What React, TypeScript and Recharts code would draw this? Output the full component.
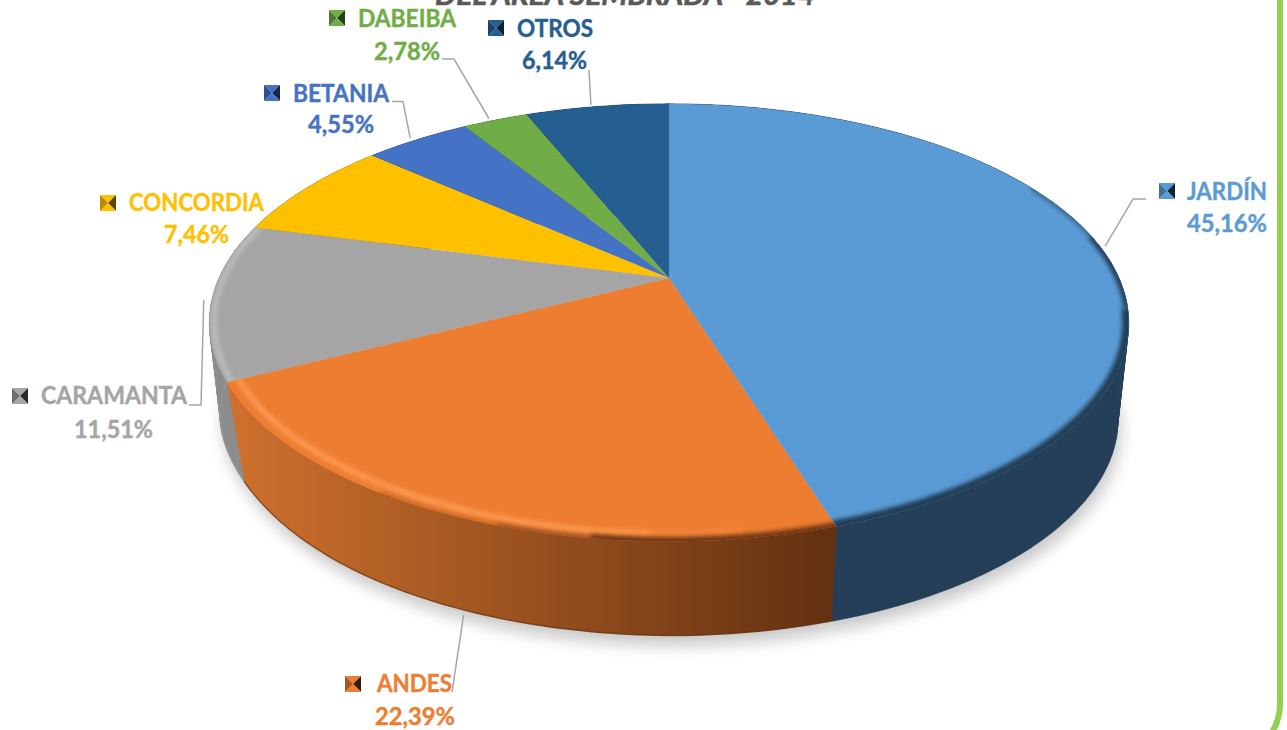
import React from "react";
import { PieChart, Pie } from "recharts";

const CATEGORIES = ["JARDÍN", "ANDES", "CARAMANTA", "CONCORDIA", "BETANIA", "DABEIBA", "OTROS"];
const VALUES = [45.16, 22.39, 11.51, 7.46, 4.55, 2.78, 6.14];
const TITLE = "DEL ÁREA SEMBRADA - 2014";

const COLORS = ["#5B9BD5", "#ED7D31", "#A5A5A5", "#FFC000", "#4472C4", "#70AD47", "#255E91"];
const WALL_LEFT = ["#243F57", "#CE702D", "#8C8C8C", "#A87E00", "#2C4B80", "#4A722F", "#183D5F"];
const WALL_RIGHT = ["#243F57", "#633110", "#9A9A9A", "#A87E00", "#2C4B80", "#4A722F", "#183D5F"];
const KEY_DARK = ["#0E2333", "#3B1C08", "#2A2A2A", "#5C4500", "#16274A", "#24401A", "#0B2237"];
const KEY_MID = ["#3F7097", "#A5561F", "#6E6E6E", "#B88B00", "#2F5190", "#4E7C30", "#1A4369"];

const chartData = CATEGORIES.map((name, i) => ({ name, value: VALUES[i] }));

const CX = 669;
const CY = 278;
const RADIUS = 450;
const RATIO_Y = 0.466;
const PERSPECTIVE = 0.204;
const WALL_DROP = 103;
const WALL_SHIFT = 1;
const FONT = "Lato, 'Open Sans', sans-serif";

type Pt = [number, number];

function topPoint(cx: number, cy: number, r: number, deg: number, t = 1): Pt {
  const a = (deg * Math.PI) / 180;
  const u = t * Math.cos(a);
  const v = t * Math.sin(a);
  const w = 1 + PERSPECTIVE * v;
  return [cx + (r * u) / w, cy - (r * RATIO_Y * v) / w];
}

function wallScale(deg: number): number {
  const u = Math.cos((deg * Math.PI) / 180);
  if (u >= 0) return 0.966 + 0.01 * Math.pow(u, 12);
  return 0.966 - 0.012 * Math.abs(u) + 0.03 * Math.pow(u, 12);
}

function wallPoint(cx: number, cy: number, r: number, deg: number): Pt {
  const [x, y] = topPoint(cx, cy, r, deg);
  const s = wallScale(deg);
  return [cx + WALL_SHIFT + s * (x - cx), cy + WALL_DROP + s * (y - cy)];
}

function sampleAngles(from: number, to: number): number[] {
  const n = Math.max(2, Math.ceil(Math.abs(to - from)));
  const out: number[] = [];
  for (let i = 0; i <= n; i++) out.push(from + ((to - from) * i) / n);
  return out;
}

const toPath = (pts: Pt[]) => pts.map((p, i) => `${i ? "L" : "M"}${p[0].toFixed(1)},${p[1].toFixed(1)}`).join(" ");

type Bevel = { from: number; to: number; t: number; color: string; width: number; opacity: number };

const BEVELS: Record<string, Bevel[]> = {
  "JARDÍN": [
    { from: 28, to: 12, t: 1.0, color: "#173046", width: 4, opacity: 0.6 },
    { from: 12, to: -8, t: 1.0, color: "#173046", width: 8, opacity: 0.85 },
    { from: -8, to: -73, t: 1.0, color: "#1C3850", width: 13, opacity: 0.95 },
  ],
  "ANDES": [
    { from: -153.5, to: -92, t: 0.976, color: "#FF9C55", width: 6, opacity: 0.85 },
    { from: -92, to: -82, t: 0.976, color: "#FF9C55", width: 5, opacity: 0.35 },
    { from: -72, to: -98, t: 1.0, color: "#5A2C0C", width: 9, opacity: 0.85 },
    { from: -98, to: -108, t: 1.0, color: "#5A2C0C", width: 6, opacity: 0.55 },
    { from: -108, to: -122, t: 1.0, color: "#5A2C0C", width: 4, opacity: 0.3 },
  ],
  "CARAMANTA": [
    { from: -153, to: -198, t: 0.99, color: "#C6C6C6", width: 5, opacity: 0.75 },
  ],
};

function Shadow(props: any) {
  const { cx, cy, outerRadius, startAngle, endAngle } = props;
  const pts: Pt[] = [[cx, cy + 40]];
  sampleAngles(startAngle, endAngle).forEach((d) => {
    const [x, y] = wallPoint(cx, cy, outerRadius, d);
    pts.push([x + 3, y + 10]);
  });
  return <path d={toPath(pts) + " Z"} fill="#000" opacity={0.22} filter="url(#blurL)" />;
}

function Wall(props: any) {
  const { cx, cy, outerRadius, startAngle, endAngle, name } = props;
  const i = CATEGORIES.indexOf(name);
  const angles = sampleAngles(startAngle, endAngle);
  const upper = angles.map((d) => topPoint(cx, cy, outerRadius, d));
  const lowerF = angles.map((d) => wallPoint(cx, cy, outerRadius, d));
  const lower = [...lowerF].reverse();
  const gid = `wall-${i}`;
  return (
    <g>
      <defs>
        <linearGradient id={gid} gradientUnits="userSpaceOnUse" x1={235} x2={830} y1={0} y2={0}>
          <stop offset="0" stopColor={WALL_LEFT[i]} />
          <stop offset="1" stopColor={WALL_RIGHT[i]} />
        </linearGradient>
      </defs>
      <path d={toPath([...upper, ...lower]) + " Z"} fill={`url(#${gid})`} />
      {angles.slice(1).map((_, k) => (
        <path
          key={k}
          d={toPath([upper[k], upper[k + 1], lowerF[k + 1], lowerF[k]]) + " Z"}
          fill={`url(#${gid})`}
          stroke={`url(#${gid})`}
          strokeWidth={0.6}
        />
      ))}
      <path d={toPath(lower)} fill="none" stroke={WALL_RIGHT[i]} strokeWidth={1.5} strokeOpacity={0.6} />
    </g>
  );
}

function Top(props: any) {
  const { cx, cy, outerRadius, startAngle, endAngle, name } = props;
  const i = CATEGORIES.indexOf(name);
  const arc = sampleAngles(startAngle, endAngle).map((d) => topPoint(cx, cy, outerRadius, d));
  const d = toPath([[cx, cy], ...arc]) + " Z";
  const clip = `top-${i}`;
  return (
    <g>
      <defs>
        <clipPath id={clip}>
          <path d={d} />
        </clipPath>
      </defs>
      <path d={d} fill={COLORS[i]} />
      <g clipPath={`url(#${clip})`}>
        {(BEVELS[name] || []).map((b, k) => (
          <path
            key={k}
            d={toPath(sampleAngles(b.from, b.to).map((a) => topPoint(cx, cy, outerRadius, a, b.t)))}
            fill="none"
            stroke={b.color}
            strokeWidth={b.width}
            strokeOpacity={b.opacity}
            filter="url(#blurS)"
          />
        ))}
      </g>
    </g>
  );
}

type LabelBox = {
  keyX: number; keyY: number;
  nameX: number; nameW: number; nameY: number;
  pctX: number; pctW: number; pctY: number;
  leader: Pt[];
  fromWall?: boolean;
};

const LABELS: Record<string, LabelBox> = {
  "JARDÍN": { keyX: 1159, keyY: 183, nameX: 1187, nameW: 80, nameY: 200, pctX: 1187, pctW: 80, pctY: 232, leader: [[1146, 199], [1133, 199]] },
  "ANDES": { keyX: 345, keyY: 676, nameX: 377, nameW: 75, nameY: 692, pctX: 375, pctW: 80, pctY: 725, leader: [[452, 692]], fromWall: true },
  "CARAMANTA": { keyX: 12, keyY: 388, nameX: 41, nameW: 146, nameY: 404, pctX: 74, pctW: 79, pctY: 438, leader: [[189, 405], [201, 405]] },
  "CONCORDIA": { keyX: 100, keyY: 195, nameX: 129, nameW: 135, nameY: 211, pctX: 164, pctW: 65, pctY: 243, leader: [] },
  "BETANIA": { keyX: 264, keyY: 85, nameX: 293, nameW: 96, nameY: 102, pctX: 308, pctW: 66, pctY: 133, leader: [[392, 101.5], [403, 101.5]] },
  "DABEIBA": { keyX: 329, keyY: 10, nameX: 358, nameW: 98, nameY: 27, pctX: 374, pctW: 66, pctY: 60, leader: [[442, 59], [454, 59]] },
  "OTROS": { keyX: 488, keyY: 20, nameX: 517, nameW: 76, nameY: 37, pctX: 522, pctW: 65, pctY: 69, leader: [[589, 70]] },
};

function KeyIcon({ x, y, i }: { x: number; y: number; i: number }) {
  const s = 16;
  const m: Pt = [x + s / 2, y + s / 2];
  const tri = (a: Pt, b: Pt, fill: string, k: string) => (
    <path key={k} d={toPath([a, b, m]) + " Z"} fill={fill} />
  );
  const tl: Pt = [x, y], tr: Pt = [x + s, y], br: Pt = [x + s, y + s], bl: Pt = [x, y + s];
  return (
    <g>
      {tri(tl, tr, COLORS[i], "t")}
      {tri(tr, br, KEY_DARK[i], "r")}
      {tri(br, bl, COLORS[i], "b")}
      {tri(bl, tl, KEY_MID[i], "l")}
    </g>
  );
}

function renderLabel(props: any) {
  const { cx, cy, midAngle, outerRadius, name, value } = props;
  const i = CATEGORIES.indexOf(name);
  const box = LABELS[name];
  const anchor = box.fromWall ? wallPoint(cx, cy, outerRadius, midAngle) : topPoint(cx, cy, outerRadius, midAngle, 1.004);
  const right = Math.cos((midAngle * Math.PI) / 180) > 0;
  const rim: Pt = box.fromWall ? [anchor[0] + 1, anchor[1] + 5] : [anchor[0] + (right ? 3 : -6), anchor[1] - 1];
  const pts = [...box.leader, rim];
  const pct = `${Number(value).toFixed(2).replace(".", ",")}%`;
  const textProps = {
    fill: COLORS[i],
    stroke: COLORS[i],
    strokeWidth: 0.4,
    fontFamily: FONT,
    fontWeight: 700,
    fontSize: 24,
    lengthAdjust: "spacingAndGlyphs" as const,
  };
  return (
    <g key={name}>
      {box.leader.length > 0 && (
        <path d={toPath(pts)} fill="none" stroke="#A6A6A6" strokeWidth={1.5} />
      )}
      <KeyIcon x={box.keyX} y={box.keyY} i={i} />
      <text x={box.nameX} y={box.nameY} textLength={box.nameW} {...textProps}>{name}</text>
      <text x={box.pctX} y={box.pctY} textLength={box.pctW} {...textProps}>{pct}</text>
    </g>
  );
}

export default function App() {
  const common = {
    data: chartData,
    dataKey: "value",
    nameKey: "name",
    cx: CX,
    cy: CY,
    outerRadius: RADIUS,
    startAngle: 90,
    endAngle: -270,
    stroke: "none",
    isAnimationActive: false,
    labelLine: false,
  };
  return (
    <div style={{ position: "absolute", left: 0, top: 0, width: 1287, height: 730, background: "#fff", overflow: "hidden" }}>
      <PieChart width={1287} height={730} margin={{ top: 0, right: 0, bottom: 0, left: 0 }}>
        <defs>
          <filter id="blurS" filterUnits="userSpaceOnUse" x="0" y="0" width="1287" height="730">
            <feGaussianBlur stdDeviation="2.2" />
          </filter>
          <filter id="blurL" filterUnits="userSpaceOnUse" x="0" y="0" width="1287" height="730">
            <feGaussianBlur stdDeviation="8" />
          </filter>
        </defs>
        <text x={435} y={5} textLength={380} lengthAdjust="spacingAndGlyphs" fontFamily={FONT} fontWeight={700} fontStyle="italic" fontSize={29} fill="#595959" stroke="#595959" strokeWidth={0.6}>
          {TITLE}
        </text>
        <path d="M1280,0 L1280,704 Q1280,720 1271,734" fill="none" stroke="#92D050" strokeWidth={6} />
        <Pie {...common} shape={Shadow} />
        <Pie {...common} shape={Wall} />
        <Pie {...common} shape={Top} label={renderLabel} />
      </PieChart>
    </div>
  );
}
